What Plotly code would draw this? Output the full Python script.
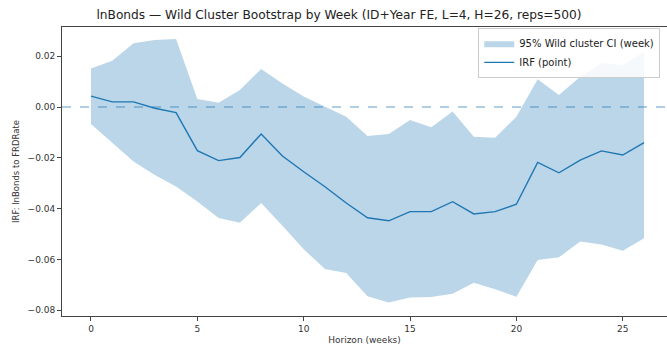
import plotly.graph_objects as go

# Impulse response of lnBonds to FRDRate by weekly horizon, with wild cluster bootstrap band
horizon = list(range(27))
irf_point = [0.0043, 0.0020, 0.0020, -0.0005, -0.0022, -0.0172, -0.0211, -0.0199, -0.0106,
             -0.0193, -0.0255, -0.0314, -0.0378, -0.0436, -0.0448, -0.0412, -0.0412, -0.0373,
             -0.0421, -0.0412, -0.0383, -0.0218, -0.0259, -0.0209, -0.0173, -0.0189, -0.0140]
ci_upper = [0.0152, 0.0182, 0.0251, 0.0264, 0.0268, 0.0031, 0.0017, 0.0067, 0.0150,
            0.0093, 0.0041, 0.0001, -0.0038, -0.0114, -0.0106, -0.0051, -0.0080, -0.0018,
            -0.0117, -0.0121, -0.0038, 0.0109, 0.0047, 0.0119, 0.0172, 0.0165, 0.0218]
ci_lower = [-0.0067, -0.0142, -0.0215, -0.0268, -0.0313, -0.0372, -0.0437, -0.0456, -0.0378,
            -0.0468, -0.0560, -0.0638, -0.0654, -0.0745, -0.0770, -0.0750, -0.0748, -0.0735,
            -0.0692, -0.0718, -0.0747, -0.0602, -0.0592, -0.0530, -0.0541, -0.0566, -0.0517]
y_ticks = [0.02, 0.00, -0.02, -0.04, -0.06, -0.08]
x_ticks = [0, 5, 10, 15, 20, 25]

TITLE = "lnBonds — Wild Cluster Bootstrap by Week (ID+Year FE, L=4, H=26, reps=500)"
BLUE = "#1f77b4"
BAND = "rgba(31,119,180,0.30)"
FONT = "DejaVu Sans"

fig = go.Figure()
fig.add_trace(go.Scatter(x=horizon, y=ci_lower, mode="lines", line=dict(width=0),
                         showlegend=False, hoverinfo="skip"))
fig.add_trace(go.Scatter(x=horizon, y=ci_upper, mode="lines", line=dict(width=0),
                         fill="tonexty", fillcolor=BAND,
                         name="95% Wild cluster CI (week)"))
fig.add_trace(go.Scatter(x=horizon, y=irf_point, mode="lines",
                         line=dict(color=BLUE, width=1.4), name="IRF (point)"))

# zero reference line
fig.add_hline(y=0, line=dict(color=BLUE, width=1, dash="dash"), opacity=0.7)

fig.update_layout(
    width=667, height=345,
    margin=dict(l=62, r=0, t=27, b=29),
    paper_bgcolor="white", plot_bgcolor="white",
    font=dict(family=FONT, size=9, color="#333"),
    title=dict(text=TITLE, x=339 / 667, xref="container", xanchor="center",
               y=1 - 15 / 345, yref="container", yanchor="middle",
               font=dict(size=12.2, color="#222")),
    legend=dict(x=0.688, y=0.997, xanchor="left", yanchor="top",
                traceorder="normal",
                bgcolor="rgba(255,255,255,0.85)", bordercolor="#cccccc", borderwidth=1,
                font=dict(size=10, color="#222"), tracegroupgap=0,
                itemwidth=30),
    showlegend=True,
)
fig.update_xaxes(range=[-1.363, 27.08], tickvals=x_ticks, ticks="outside", ticklen=4,
                 tickcolor="#444", showline=True, linecolor="#444", linewidth=1,
                 mirror=True, showgrid=False, zeroline=False,
                 title=dict(text="Horizon (weeks)", font=dict(size=9, color="#333"),
                            standoff=4))
fig.update_yaxes(range=[-0.0823, 0.0315], tickvals=y_ticks, tickformat=".2f",
                 ticks="outside", ticklen=4, tickcolor="#444", showline=True,
                 linecolor="#444", linewidth=1, showgrid=False, zeroline=False,
                 title=dict(text="IRF: lnBonds to FRDRate", font=dict(size=8.5, color="#333"),
                            standoff=6))

fig.write_html("out.html")
